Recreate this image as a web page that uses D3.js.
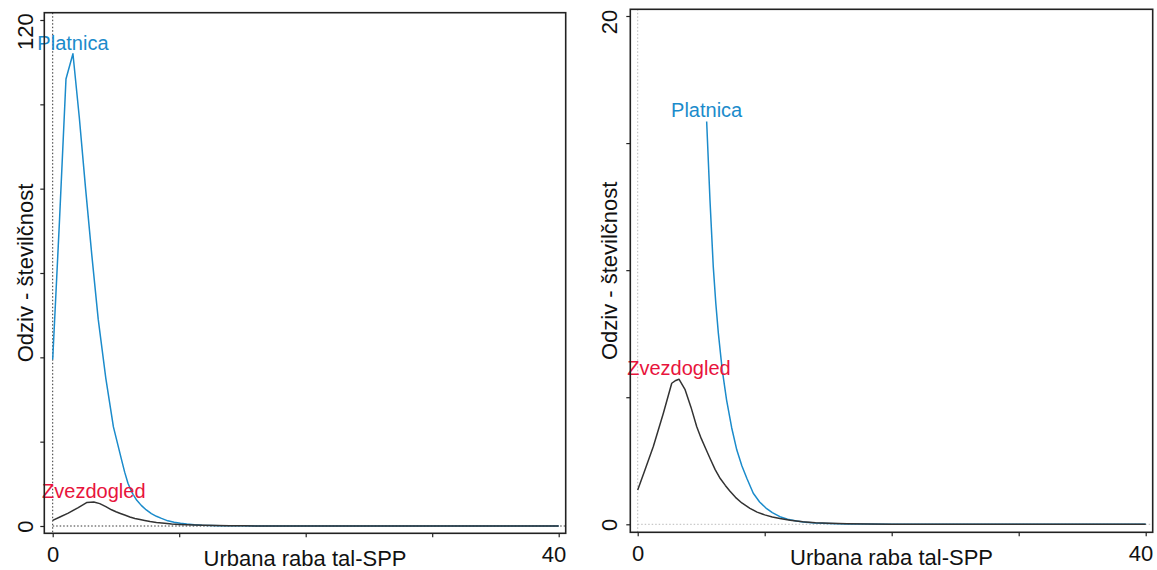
<!DOCTYPE html>
<html>
<head>
<meta charset="utf-8">
<script src="https://cdn.jsdelivr.net/npm/d3@7"></script>
<style>
  body { margin: 0; background: #fff; }
  svg { display: block; font-family: "Liberation Sans", Arial, sans-serif; }
</style>
</head>
<body>
<div id="chart"></div>
<script>
// values (both panels show the same two response curves)
var xVals = [0, 0.53, 1.05, 1.6, 2.1, 2.6, 3.1, 3.6, 4.2, 4.8, 5.43, 5.69, 5.95, 6.15, 6.35, 6.65, 7.0, 7.4, 7.8, 8.2, 8.6, 9.1, 9.6, 10.1, 10.6, 11.2, 11.8, 12.5, 13.2, 14, 15, 16.5, 18, 20, 23, 30, 40];
var platnica = [39.5, 72, 106, 112, 97, 80, 64, 49, 35, 23.5, 15.85, 12.77, 10.14, 8.7, 7.52, 6.1, 4.89, 3.8, 2.93, 2.3, 1.8, 1.22, 0.88, 0.64, 0.46, 0.3, 0.2, 0.13, 0.085, 0.05, 0.03, 0.015, 0.008, 0.003, 0, 0, 0];

var xValsZ = [0, 0.57, 1.23, 2.02, 2.68, 3.0, 3.25, 3.72, 4.2, 4.65, 5.0, 5.35, 5.69, 6.1, 6.5, 6.9, 7.27, 7.7, 8.2, 8.84, 9.4, 10, 10.6, 11.2, 12, 13, 14, 15.1, 16.5, 18, 20, 23, 30, 40];
var zvezdogled = [1.35, 2.14, 3.06, 4.37, 5.55, 5.66, 5.71, 5.31, 4.6, 3.84, 3.38, 2.98, 2.6, 2.15, 1.8, 1.53, 1.3, 1.06, 0.84, 0.63, 0.48, 0.37, 0.29, 0.23, 0.16, 0.1, 0.065, 0.04, 0.022, 0.012, 0.005, 0, 0, 0];

var seriesNames = ["Platnica", "Zvezdogled"];
var xTicks = [0, 10, 20, 30, 40];
var yTicksLeft = [0, 20, 40, 60, 80, 100, 120];
var yTicksRight = [0, 5, 10, 15, 20];
var xTitle = "Urbana raba tal-SPP";
var yTitle = "Odziv - številčnost";

var svg = d3.select("#chart")
  .append("svg")
  .attr("width", 1157)
  .attr("height", 570);

// one panel = one box, its own y range
function drawPanel(p) {
  var x = d3.scaleLinear().domain([0, 40]).range([p.x0, p.x1]);
  var y = d3.scaleLinear().domain([0, p.yMax]).range([p.y0, p.y1]);

  var g = svg.append("g");

  var clipId = "clip" + p.id;
  svg.append("clipPath").attr("id", clipId)
    .append("rect")
    .attr("x", p.box.left).attr("y", p.box.top)
    .attr("width", p.box.right - p.box.left)
    .attr("height", p.box.bottom - p.box.top);

  // dotted zero lines
  g.append("line")
    .attr("x1", x(0)).attr("x2", x(0))
    .attr("y1", p.box.top).attr("y2", p.box.bottom)
    .attr("stroke", p.zeroColor).attr("stroke-width", 1)
    .attr("stroke-dasharray", "1.5,2");
  g.append("line")
    .attr("x1", x(0)).attr("x2", p.box.right)
    .attr("y1", y(0)).attr("y2", y(0))
    .attr("stroke", p.zeroColor).attr("stroke-width", 1)
    .attr("stroke-dasharray", "1.5,2");

  var line = d3.line().x(d => x(d.x)).y(d => y(d.y));

  var sets = [
    { name: seriesNames[0], color: "#1b8bcb", text: "#1b8bcb",
      pts: xVals.map((v, i) => ({ x: v, y: platnica[i] })) },
    { name: seriesNames[1], color: "#333333", text: "#e8143c",
      pts: xValsZ.map((v, i) => ({ x: v, y: zvezdogled[i] })) }
  ];

  sets.forEach(function(s) {
    // points above the y range are dropped, as in the original
    var pts = s.pts.filter(d => d.y <= p.yMax);
    g.append("path")
      .datum(pts)
      .attr("clip-path", "url(#" + clipId + ")")
      .attr("fill", "none")
      .attr("stroke", s.color)
      .attr("stroke-width", 1.5)
      .attr("stroke-linejoin", "round")
      .attr("d", line);

    var top = pts.reduce((a, b) => (b.y > a.y ? b : a));
    g.append("text")
      .attr("x", x(top.x))
      .attr("y", y(top.y) - 4)
      .attr("text-anchor", "middle")
      .attr("fill", s.text)
      .attr("font-size", 20)
      .text(s.name);
  });

  // box
  g.append("rect")
    .attr("x", p.box.left).attr("y", p.box.top)
    .attr("width", p.box.right - p.box.left)
    .attr("height", p.box.bottom - p.box.top)
    .attr("fill", "none")
    .attr("stroke", "#222")
    .attr("stroke-width", 1.6);

  // x axis
  var xAxis = d3.axisBottom(x)
    .tickValues(xTicks)
    .tickSize(4)
    .tickPadding(9)
    .tickFormat(d => (d === 0 || d === 40) ? d : "");
  var gx = g.append("g")
    .attr("transform", `translate(0, ${p.box.bottom})`)
    .call(xAxis);
  gx.select(".domain").remove();
  gx.selectAll(".tick line").attr("stroke", "#222").attr("stroke-width", 1.2);
  gx.selectAll("text")
    .attr("font-size", 22)
    .attr("font-family", "Liberation Sans, Arial, sans-serif")
    .attr("fill", "#111");
  // last label is pulled inside the box edge
  gx.selectAll(".tick").filter(d => d === 40).select("text")
    .attr("text-anchor", "end")
    .attr("x", p.box.right - x(40));

  // y axis, labels rotated
  var yAxis = d3.axisLeft(y)
    .tickValues(p.yTicks)
    .tickSize(4)
    .tickFormat(d => (d === 0 || d === p.yMax) ? d : "");
  var gy = g.append("g")
    .attr("transform", `translate(${p.box.left}, 0)`)
    .call(yAxis);
  gy.select(".domain").remove();
  gy.selectAll(".tick line").attr("stroke", "#222").attr("stroke-width", 1.2);
  gy.selectAll("text")
    .attr("font-size", 22)
    .attr("font-family", "Liberation Sans, Arial, sans-serif")
    .attr("fill", "#111")
    .attr("transform", "rotate(-90)")
    .attr("text-anchor", "middle")
    .attr("dy", 0)
    .attr("x", 0)
    .attr("y", -p.labelGap);
  gy.selectAll(".tick").filter(d => d === p.yMax).select("text")
    .attr("text-anchor", "end")
    .attr("x", y(p.yMax) - p.box.top);

  // axis titles
  g.append("text")
    .attr("transform", `translate(${(p.box.left + p.box.right) / 2}, ${p.box.bottom + 33})`)
    .attr("text-anchor", "middle")
    .attr("font-size", 22)
    .attr("fill", "#111")
    .text(xTitle);

  g.append("text")
    .attr("transform", `translate(${p.box.left - p.labelGap}, ${(p.box.top + p.box.bottom) / 2}) rotate(-90)`)
    .attr("text-anchor", "middle")
    .attr("font-size", 22)
    .attr("fill", "#111")
    .text(yTitle);
}

drawPanel({
  id: "L", yMax: 120, yTicks: yTicksLeft,
  x0: 52.7, x1: 558.7, y0: 526, y1: 20,
  box: { left: 44.3, right: 565.7, top: 12.7, bottom: 533.3 },
  zeroColor: "#333", labelGap: 11
});

drawPanel({
  id: "R", yMax: 20, yTicks: yTicksRight,
  x0: 637.7, x1: 1145.7, y0: 524.3, y1: 16,
  box: { left: 630.3, right: 1152.7, top: 9.3, bottom: 532.3 },
  zeroColor: "#bbb", labelGap: 13.5
});
</script>
</body>
</html>
